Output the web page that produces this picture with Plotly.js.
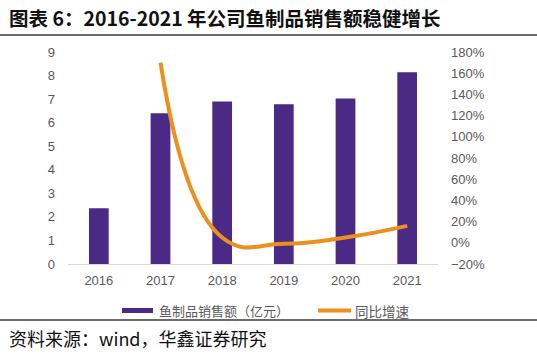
<!DOCTYPE html>
<html>
<head>
<meta charset="utf-8">
<script src="https://cdn.plot.ly/plotly-3.0.1.min.js"></script>
<style>html,body{margin:0;padding:0;background:#fff;}#chart{width:537px;height:361px;}</style>
</head>
<body>
<div id="chart"></div>
<script>
var years = ['2016', '2017', '2018', '2019', '2020', '2021'];
var sales = [2.37, 6.40, 6.90, 6.78, 7.03, 8.14];
var growthYears = ['2017', '2018', '2019', '2020', '2021'];
var growth = [1.70, 0.05, -0.01, 0.05, 0.16];
var leftTicks = [0, 1, 2, 3, 4, 5, 6, 7, 8, 9];
var rightTicks = [-0.2, 0, 0.2, 0.4, 0.6, 0.8, 1.0, 1.2, 1.4, 1.6, 1.8];

var purple = '#4B2A85';
var orange = '#EC8F1C';
var gray = '#595959';
var cjk = '"Noto Sans CJK SC", sans-serif';
var tickFont = {family: '"Liberation Sans", Arial, sans-serif', size: 13, color: gray};

var L = 68, R = 438, T = 52, B = 264;
function px(x) { return (x - L) / (R - L); }
function py(y) { return (B - y) / (B - T); }

var traces = [
  {type: 'bar', x: years, y: sales, marker: {color: purple}, name: '鱼制品销售额（亿元）', hoverinfo: 'none'},
  {type: 'scatter', mode: 'lines', x: growthYears, y: growth, yaxis: 'y2', name: '同比增速',
   line: {color: orange, width: 4, shape: 'spline', smoothing: 1.3}, hoverinfo: 'none'}
];

var layout = {
  width: 537, height: 361,
  margin: {l: L, r: 537 - R, t: T, b: 361 - B, pad: 0},
  paper_bgcolor: '#fff', plot_bgcolor: '#fff',
  showlegend: false,
  bargap: 0.68,
  xaxis: {type: 'category', tickfont: tickFont, showgrid: false, showline: true, linecolor: '#d9d9d9', linewidth: 1,
          ticks: '', ticklabelstandoff: 4, zeroline: false},
  yaxis: {range: [0, 9], tickvals: leftTicks, tickfont: tickFont, showgrid: false, zeroline: false, showline: false,
          ticks: '', ticklabelstandoff: 12},
  yaxis2: {range: [-0.2, 1.8], overlaying: 'y', side: 'right', tickvals: rightTicks, tickformat: '.0%',
           tickfont: tickFont, showgrid: false, zeroline: false, showline: false, ticks: '', ticklabelstandoff: 12},
  shapes: [
    {type: 'line', xref: 'paper', yref: 'paper', x0: px(0), x1: px(537), y0: py(35), y1: py(35), line: {color: '#3a3a3a', width: 1.5}},
    {type: 'line', xref: 'paper', yref: 'paper', x0: px(0), x1: px(537), y0: py(320), y1: py(320), line: {color: '#3a3a3a', width: 1.5}},
    {type: 'rect', xref: 'paper', yref: 'paper', x0: px(122), x1: px(153), y0: py(313), y1: py(308), fillcolor: purple, line: {width: 0}},
    {type: 'line', xref: 'paper', yref: 'paper', x0: px(318), x1: px(351), y0: py(310.5), y1: py(310.5), line: {color: orange, width: 4}}
  ],
  annotations: [
    {xref: 'paper', yref: 'paper', x: px(7), y: py(18), xanchor: 'left', yanchor: 'middle', showarrow: false,
     text: '<b>图表 6：2016-2021 年公司鱼制品销售额稳健增长</b>', font: {family: cjk, size: 19.5, color: '#111'}},
    {xref: 'paper', yref: 'paper', x: px(7), y: py(338), xanchor: 'left', yanchor: 'middle', showarrow: false,
     text: '资料来源：wind，华鑫证券研究', font: {family: cjk, size: 18, color: '#111'}},
    {xref: 'paper', yref: 'paper', x: px(157), y: py(310.5), xanchor: 'left', yanchor: 'middle', showarrow: false,
     text: '鱼制品销售额（亿元）', font: {family: cjk, size: 13, color: gray}},
    {xref: 'paper', yref: 'paper', x: px(353), y: py(310.5), xanchor: 'left', yanchor: 'middle', showarrow: false,
     text: '同比增速', font: {family: cjk, size: 13.5, color: gray}}
  ]
};

Plotly.newPlot('chart', traces, layout, {displayModeBar: false, staticPlot: true});
</script>
</body>
</html>
